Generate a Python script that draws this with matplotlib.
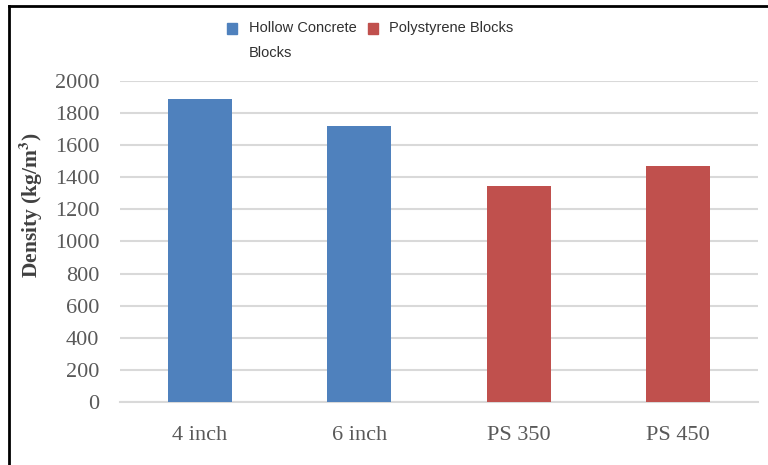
import matplotlib
matplotlib.use("Agg")
import matplotlib.pyplot as plt
from matplotlib.patches import Rectangle
from matplotlib.lines import Line2D

categories = ["4 inch", "6 inch", "PS 350", "PS 450"]
density = [1887, 1719, 1344, 1469]
series_of_bar = [0, 0, 1, 1]
series_names = ["Hollow Concrete\nBlocks", "Polystyrene Blocks"]
series_colors = ["#4F81BD", "#C0504D"]
y_ticks = [0, 200, 400, 600, 800, 1000, 1200, 1400, 1600, 1800, 2000]

W, H = 768, 465
fig = plt.figure(figsize=(W / 100, H / 100), dpi=100)
ax = fig.add_axes([120 / W, (H - 402) / H, 638 / W, 321 / H])

x = list(range(len(categories)))
ax.bar(x, density, width=0.4, color=[series_colors[s] for s in series_of_bar], zorder=3)

ax.set_xlim(-0.5, len(categories) - 0.5)
ax.set_ylim(0, 2000)
ax.set_yticks(y_ticks)
ax.set_xticks(x)
ax.set_xticklabels(categories)
ax.yaxis.grid(True, color="#D9D9D9", linewidth=1.5, zorder=0)
ax.set_axisbelow(True)
for s in ["top", "right", "left"]:
    ax.spines[s].set_visible(False)
ax.spines["bottom"].set_color("#D9D9D9")
ax.spines["bottom"].set_linewidth(1.5)
ax.tick_params(axis="both", length=0, labelcolor="#595959", labelsize=16)
ax.tick_params(axis="y", pad=15)
ax.tick_params(axis="x", pad=17)
for lab in ax.get_xticklabels() + ax.get_yticklabels():
    lab.set_fontfamily("Liberation Serif")

fig.text(31 / W, (H - 205) / H, "Density (kg/m$^{\\mathbf{3}}$)", rotation=90, ha="center", va="center",
         fontsize=15.5, fontweight="bold", family="Liberation Serif", color="#404040",
         math_fontfamily="stix")

# legend
leg_x = [227, 368]
text_x = [249, 389]
for i, name in enumerate(series_names):
    fig.patches.append(Rectangle((leg_x[i] / W, (H - 34) / H), 10 / W, 11 / H,
                                 transform=fig.transFigure, color=series_colors[i]))
    fig.text(text_x[i] / W, (H - 21) / H, name, ha="left", va="top", fontsize=10.5,
             family="Liberation Sans", color="#303030", linespacing=2.0)

# outer frame (left and top)
fig.add_artist(Line2D([9 / W, 9 / W], [0, (H - 6) / H], transform=fig.transFigure,
                      color="black", linewidth=2))
fig.add_artist(Line2D([9 / W, 1], [(H - 6) / H, (H - 6) / H], transform=fig.transFigure,
                      color="black", linewidth=2))

fig.savefig("out.png", dpi=100)
